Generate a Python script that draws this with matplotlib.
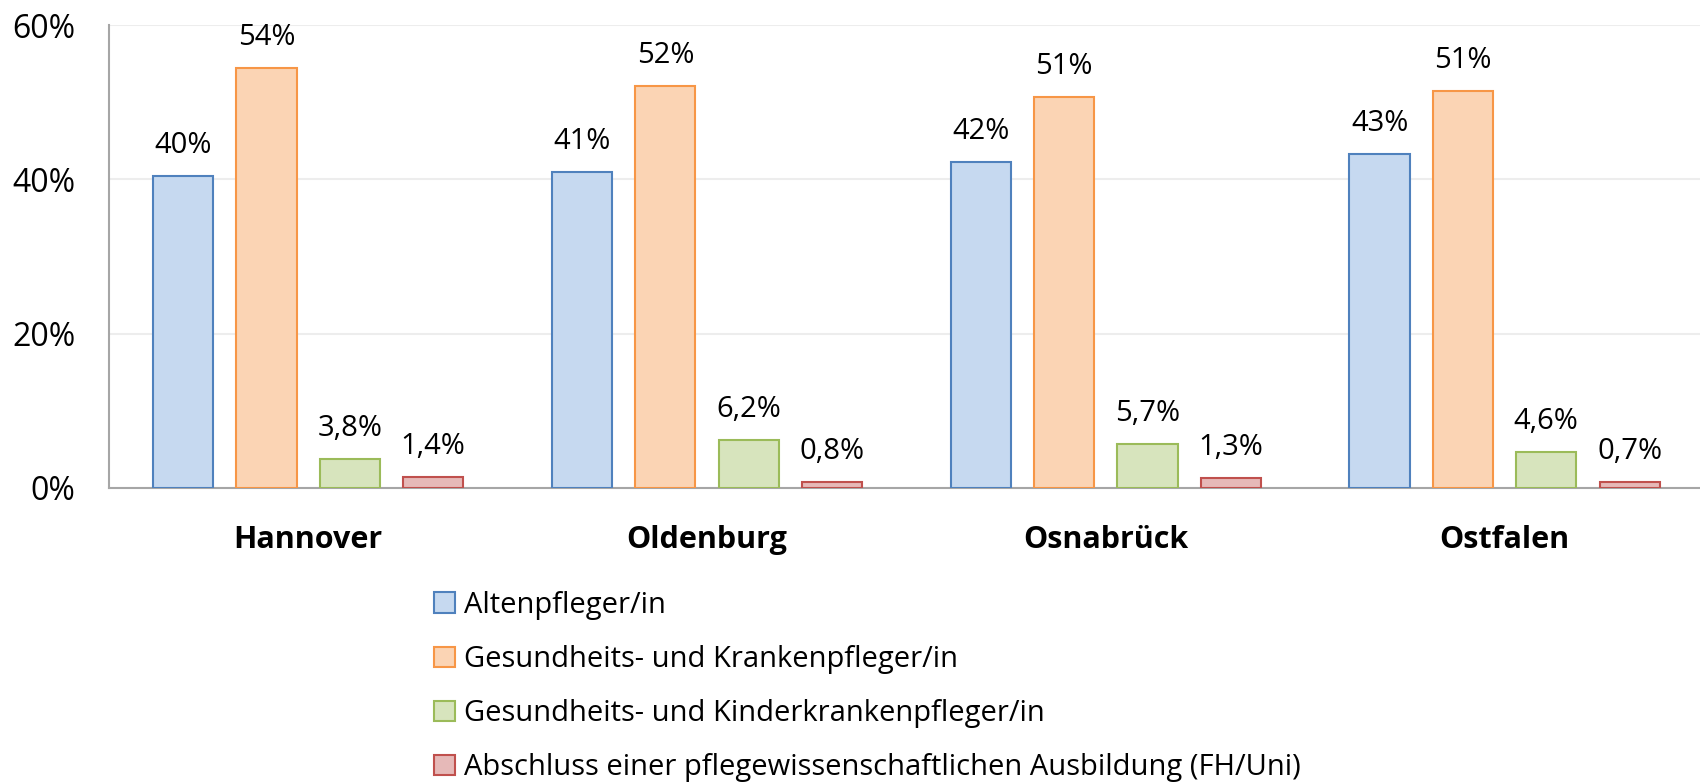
import matplotlib
matplotlib.use("Agg")
import matplotlib.pyplot as plt
import numpy as np

plt.rcParams["font.family"] = ["Open Sans", "DejaVu Sans"]

regions = ["Hannover", "Oldenburg", "Osnabrück", "Ostfalen"]
series_names = [
    "Altenpfleger/in",
    "Gesundheits- und Krankenpfleger/in",
    "Gesundheits- und Kinderkrankenpfleger/in",
    "Abschluss einer pflegewissenschaftlichen Ausbildung (FH/Uni)",
]
alten = [40.4, 41.0, 42.3, 43.3]
kranken = [54.4, 52.1, 50.7, 51.4]
kinder = [3.8, 6.2, 5.7, 4.6]
akademisch = [1.4, 0.8, 1.3, 0.7]
yticks = [0, 20, 40, 60]

fills = ["#C6D9F0", "#FBD4B4", "#D7E4BD", "#E6B9B8"]
edges = ["#4F81BD", "#F79646", "#9BBB59", "#C0504D"]
label_fmt = ["{:.0f}%", "{:.0f}%", "{:.1f}%", "{:.1f}%"]


def main():
    fig = plt.figure(figsize=(17, 7.83), dpi=100)
    ax = fig.add_axes([0.064, 0.377, 0.936, 0.591])

    x = np.arange(len(regions))
    width = 0.151
    step = 0.209
    all_series = [alten, kranken, kinder, akademisch]
    for i, values in enumerate(all_series):
        offset = (i - 1.5) * step
        bars = ax.bar(x + offset, values, width, color=fills[i], edgecolor=edges[i],
                      linewidth=1.5, label=series_names[i], zorder=3)
        labels = [label_fmt[i].format(v).replace(".", ",") for v in values]
        ax.bar_label(bars, labels=labels, padding=11.5, fontsize=21)

    ax.set_xlim(-0.5, 3.49)
    ax.set_ylim(0, 60)
    ax.set_yticks(yticks)
    ax.set_yticklabels([f"{t}%" for t in yticks], fontsize=23)
    ax.set_xticks(x)
    ax.set_xticklabels(regions, fontsize=22, fontweight="bold")
    ax.tick_params(axis="both", length=0)
    ax.tick_params(axis="x", pad=27)
    ax.tick_params(axis="y", pad=24)
    ax.grid(axis="y", color="#EDEDED", linewidth=1.5, zorder=0)

    for side in ["top", "right"]:
        ax.spines[side].set_visible(False)
    ax.spines["left"].set_color("#A6A6A6")
    ax.spines["bottom"].set_color("#A6A6A6")
    ax.spines["left"].set_linewidth(1.5)
    ax.spines["bottom"].set_linewidth(1.5)

    fig.legend(loc="upper left", bbox_to_anchor=(0.247, 0.264), frameon=False,
               fontsize=21, handlelength=0.7, handleheight=0.7,
               handletextpad=0.3, labelspacing=0.86, borderpad=0)

    fig.savefig("out.png", dpi=100)
    plt.close(fig)


if __name__ == "__main__":
    main()
